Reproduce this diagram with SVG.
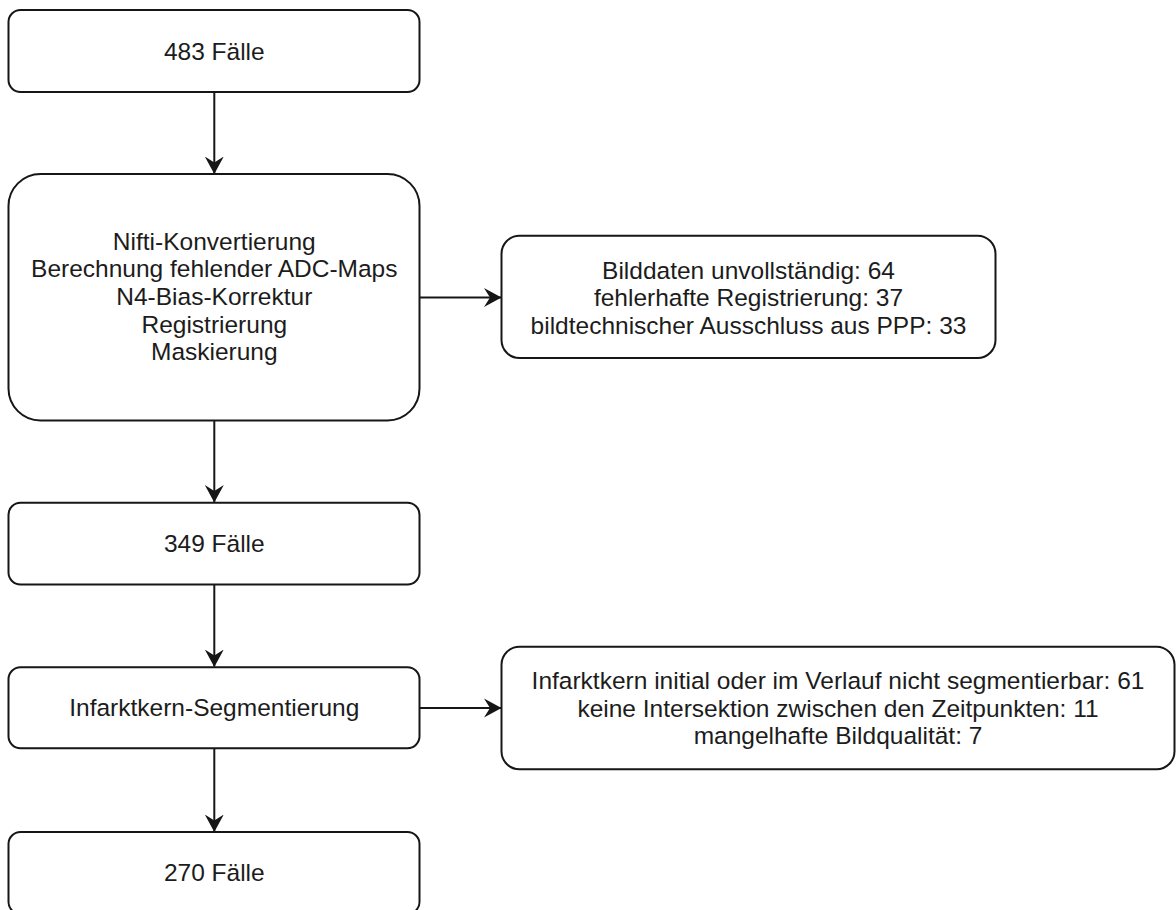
<svg xmlns="http://www.w3.org/2000/svg" width="1176" height="910" viewBox="0 0 1176 910">
  <defs>
    <style>
      .box { fill: #ffffff; stroke: #161616; stroke-width: 2; }
      .edge { fill: none; stroke: #161616; stroke-width: 2; }
      .lbl { font-family: "Liberation Sans", Arial, Helvetica, sans-serif; font-size: 24.5px; fill: #1c1c1c; text-anchor: middle; }
    </style>
    <marker id="arrow" viewBox="0 0 18 20" refX="17" refY="10" markerWidth="18" markerHeight="20" markerUnits="userSpaceOnUse" orient="auto">
      <path d="M0,0.5 L17.5,10 L0,19.5 L6,10 Z" fill="#161616"/>
    </marker>
  </defs>
  <rect width="1176" height="910" fill="#ffffff"/>

  <!-- connectors -->
  <g id="connectors">
    <line class="edge" x1="214.3" y1="92" x2="214.3" y2="173.5" marker-end="url(#arrow)"/>
    <line class="edge" x1="214.3" y1="420.5" x2="214.3" y2="502" marker-end="url(#arrow)"/>
    <line class="edge" x1="214.3" y1="584.5" x2="214.3" y2="666.5" marker-end="url(#arrow)"/>
    <line class="edge" x1="214.3" y1="748.5" x2="214.3" y2="831.5" marker-end="url(#arrow)"/>
    <line class="edge" x1="420" y1="297.5" x2="501" y2="297.5" marker-end="url(#arrow)"/>
    <line class="edge" x1="419.5" y1="708" x2="501" y2="708" marker-end="url(#arrow)"/>
  </g>

  <!-- start -->
  <g id="node-483">
    <rect class="box" x="8.5" y="10" width="411" height="82" rx="12" ry="12"/>
    <text class="lbl" x="214.3" y="59.5">483 Fälle</text>
  </g>

  <!-- preprocessing steps -->
  <g id="node-preprocessing">
    <rect class="box" x="8.5" y="174" width="411" height="246.5" rx="32" ry="32"/>
    <text class="lbl" x="214.3" y="249.5">Nifti-Konvertierung</text>
    <text class="lbl" x="214.3" y="277.2">Berechnung fehlender ADC-Maps</text>
    <text class="lbl" x="214.3" y="304.9">N4-Bias-Korrektur</text>
    <text class="lbl" x="214.3" y="332.6">Registrierung</text>
    <text class="lbl" x="214.3" y="360.3">Maskierung</text>
  </g>

  <!-- exclusions after preprocessing -->
  <g id="node-exclusion-1">
    <rect class="box" x="501.5" y="235.7" width="494" height="122.3" rx="18" ry="18"/>
    <text class="lbl" x="748.5" y="278.5">Bilddaten unvollständig: 64</text>
    <text class="lbl" x="748.5" y="306.2">fehlerhafte Registrierung: 37</text>
    <text class="lbl" x="748.5" y="333.9">bildtechnischer Ausschluss aus PPP: 33</text>
  </g>

  <g id="node-349">
    <rect class="box" x="8.5" y="502.7" width="411" height="81.8" rx="12" ry="12"/>
    <text class="lbl" x="214.3" y="552">349 Fälle</text>
  </g>

  <g id="node-segmentation">
    <rect class="box" x="8.5" y="667.3" width="411" height="81" rx="12" ry="12"/>
    <text class="lbl" x="214.3" y="716.3">Infarktkern-Segmentierung</text>
  </g>

  <!-- exclusions after segmentation -->
  <g id="node-exclusion-2">
    <rect class="box" x="501.5" y="646.7" width="673" height="122.6" rx="18" ry="18"/>
    <text class="lbl" x="838" y="689">Infarktkern initial oder im Verlauf nicht segmentierbar: 61</text>
    <text class="lbl" x="838" y="716.7">keine Intersektion zwischen den Zeitpunkten: 11</text>
    <text class="lbl" x="838" y="744.4">mangelhafte Bildqualität: 7</text>
  </g>

  <g id="node-270">
    <rect class="box" x="8.5" y="832" width="411" height="82" rx="12" ry="12"/>
    <text class="lbl" x="214.3" y="881">270 Fälle</text>
  </g>
</svg>
